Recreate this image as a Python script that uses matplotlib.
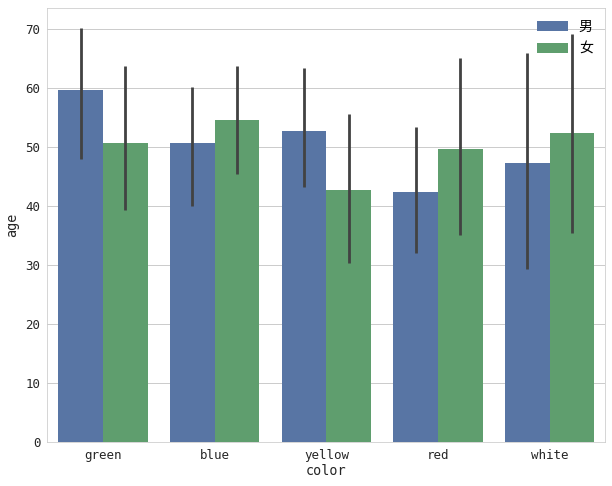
import matplotlib
matplotlib.use('Agg')
import matplotlib.pyplot as plt
import numpy as np

plt.rcParams['font.family'] = ['DejaVu Sans Mono', 'Noto Sans CJK SC']
plt.rcParams['axes.unicode_minus'] = False

colors = ['green', 'blue', 'yellow', 'red', 'white']
hue_names = [u'男', u'女']
male_age = [59.7, 50.7, 52.7, 42.4, 47.3]
female_age = [50.8, 54.7, 42.7, 49.7, 52.5]
male_lo = [48.0, 40.1, 43.3, 32.0, 29.3]
male_hi = [70.2, 60.3, 63.4, 53.4, 66.0]
female_lo = [39.3, 45.4, 30.4, 35.1, 35.5]
female_hi = [63.8, 63.8, 55.6, 65.2, 69.2]

fig = plt.figure(figsize=(8.5, 6.75), dpi=72)
ax = fig.add_axes([0.0773, 0.0905, 0.912, 0.894])

x = np.arange(len(colors))
w = 0.4
ax.bar(x - w / 2, male_age, w, color='#5875A4', label=hue_names[0], zorder=2)
ax.bar(x + w / 2, female_age, w, color='#5F9E6E', label=hue_names[1], zorder=2)
ax.vlines(x - w / 2, male_lo, male_hi, color='#424242', lw=2.8, zorder=3)
ax.vlines(x + w / 2, female_lo, female_hi, color='#424242', lw=2.8, zorder=3)

ax.set_xlim(-0.5, 4.5)
ax.set_ylim(0, 73.7)
ax.set_yticks(range(0, 71, 10))
ax.set_xticks(x)
ax.set_xticklabels(colors)
ax.yaxis.grid(True, color='#cccccc', lw=1, zorder=0)
ax.set_axisbelow(True)
for s in ax.spines.values():
    s.set_color('#cccccc')
ax.tick_params(length=0, labelsize=12.5, colors='#262626', pad=7)
ax.set_xlabel('color', fontsize=13.5, color='#262626', labelpad=2)
ax.set_ylabel('age', fontsize=13.5, color='#262626', labelpad=6)

leg = ax.legend(loc='upper right', frameon=False, fontsize=14, handlelength=2.2,
                labelspacing=0.55)

fig.savefig('out.png')
